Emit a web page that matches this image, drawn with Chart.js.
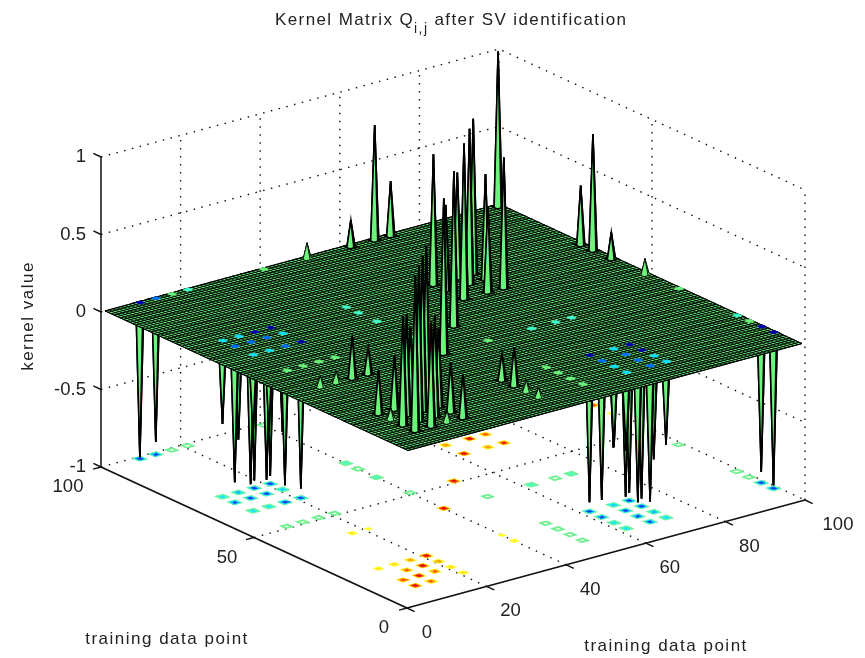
<!DOCTYPE html>
<html>
<head>
<meta charset="utf-8">
<title>Kernel Matrix</title>
<script src="https://cdn.jsdelivr.net/npm/chart.js@4/dist/chart.umd.js"></script>
<style>
  html, body { margin: 0; padding: 0; background: #fff; }
  canvas { display: block; filter: blur(0.35px); }
</style>
</head>
<body>
<canvas id="kernel-surface" width="865" height="658"></canvas>
<script>
// support vector indices, the only places where the surface leaves zero
const svIndex = [9, 13, 17, 21, 40, 51, 62, 68, 72, 99];

// kernel values, one row per y in svIndex, one column per x in svIndex
const row9  = [1,    .67,  .07,  .28,  .06, -.08, -.5,  -.87, -.53, -.98];
const row13 = [.7,   1,    .65,  .32,  .07, -.1,  -.51, -.91, -.66, -.93];
const row17 = [.07,  .65,  1,    .5,   .25, -.1,  -.89, -.91, -.95, -.1];
const row21 = [.28,  .35,  .5,   1,    .17, -.08, -.94, -.63, -.95, -.2];
const row40 = [.07,  .07,  .27,  .17,  1,   -.08, -.3,  -.2,  -.3,  -.07];
const row51 = [-.08, -.1,  -.1,  -.08, -.08, 1,   0,    0,    0,    .1];
const row62 = [-.5,  -.51, -.89, -.94, -.3,  0,   1,    .55,  .84,  .17];
const row68 = [-.87, -.91, -.91, -.63, -.2,  0,   .55,  1,    .68,  .75];
const row72 = [-.53, -.66, -.95, -.95, -.3,  0,   .84,  .68,  1,    .38];
const row99 = [-.99, -.92, -.1,  -.2,  -.07, .1,  .17,  .74,  .35,  1];
const kernelRows = [row9, row13, row17, row21, row40, row51, row62, row68, row72, row99];

const xTicks = [0, 20, 40, 60, 80, 100];
const yTicks = [0, 50, 100];
const zTicks = [-1, -0.5, 0, 0.5, 1];
const zTickLabels = ['-1', '-0.5', '0', '0.5', '1'];

const negLevels = [-.01, -.2, -.4, -.6, -.8];
const negColours = ['#70f090', '#50ffc0', '#20e0ff', '#20a0ff', '#1040e0'];
const posLevels = [.1, .25, .4, .6, .8];
const posColours = ['#ffff30', '#ffe020', '#ffa010', '#ff5010', '#e01010'];

const GREEN = '#6cf47c';
const FONT = '"Liberation Sans", Arial, sans-serif';

// fixed 3d view of the axes box
function project(x, y, z) {
    return {
        x: 407 + 3.98 * x - 3.06 * y,
        y: 608 - 1.08 * x - 1.41 * y - 155 * (z + 1)
    };
}

function markColour(z) {
    if (z > -0.2) return GREEN;
    if (z > -0.4) return '#40ffd0';
    if (z > -0.7) return '#10e0ff';
    if (z > -0.93) return '#0070ff';
    return '#0000b0';
}

let layers = [];

function addLine(points, colour, width, dash) {
    layers.push({
        data: points.map(function (p) { return project(p[0], p[1], p[2]); }),
        showLine: true,
        borderColor: colour,
        borderWidth: width,
        borderDash: dash || [],
        pointRadius: 0,
        fill: false,
        tension: 0,
        clip: false
    });
}

function addFace(points, fillColour, edgeColour, width) {
    layers.push({
        data: points.map(function (p) { return project(p[0], p[1], p[2]); }),
        showLine: true,
        borderColor: edgeColour,
        borderWidth: width,
        backgroundColor: fillColour,
        pointRadius: 0,
        fill: 'shape',
        tension: 0,
        clip: false
    });
}

// four cells around one peak, back cell first
function addSpike(a, b, z, backColour) {
    const edge = Math.abs(z) < 0.15 ? 0.8 : 1.6;
    addFace([[a, b, z], [a + 1, b, 0], [a + 1, b + 1, 0], [a, b + 1, 0], [a, b, z]], backColour, '#000', edge);
    addFace([[a - 1, b, 0], [a, b, z], [a, b + 1, 0], [a - 1, b + 1, 0], [a - 1, b, 0]], GREEN, '#000', edge);
    addFace([[a, b - 1, 0], [a + 1, b - 1, 0], [a + 1, b, 0], [a, b, z], [a, b - 1, 0]], GREEN, '#000', edge);
    addFace([[a - 1, b - 1, 0], [a, b - 1, 0], [a, b, z], [a - 1, b, 0], [a - 1, b - 1, 0]], GREEN, '#000', edge);
}

let spikes = [];
kernelRows.forEach(function (row, r) {
    row.forEach(function (z, c) {
        if (z !== 0) spikes.push({ a: svIndex[c], b: svIndex[r], z: z });
    });
});
spikes.sort(function (p, q) { return (q.a + q.b) - (p.a + p.b); });

const DOT = [1.5, 6.5];

// back walls
zTicks.forEach(function (z) {
    addLine([[0, 100, z], [100, 100, z], [100, 0, z]], '#111', 1.4, DOT);
});
xTicks.slice(1).forEach(function (x) {
    addLine([[x, 100, -1], [x, 100, 1]], '#111', 1.4, DOT);
});
[0, 50].forEach(function (y) {
    addLine([[100, y, -1], [100, y, 1]], '#111', 1.4, DOT);
});

// floor grid
xTicks.slice(1, 5).forEach(function (x) {
    addLine([[x, 0, -1], [x, 100, -1]], '#111', 1.4, DOT);
});
addLine([[0, 50, -1], [100, 50, -1]], '#111', 1.4, DOT);

// floor contours under each peak
spikes.forEach(function (s) {
    const levels = s.z < 0 ? negLevels : posLevels;
    const colours = s.z < 0 ? negColours : posColours;
    levels.forEach(function (level, i) {
        const f = 0.85 * (1 - level / s.z);
        if (f <= 0) return;
        addLine([
            [s.a - f, s.b - f, -1], [s.a + f, s.b - f, -1],
            [s.a + f, s.b + f, -1], [s.a - f, s.b + f, -1], [s.a - f, s.b - f, -1]
        ], colours[i], 1.8);
    });
});

// axis lines and ticks
addLine([[0, 100, -1], [0, 100, 1]], '#111', 1.5);
addLine([[0, 100, -1], [0, 0, -1]], '#111', 1.8);
addLine([[0, 0, -1], [100, 0, -1]], '#111', 1.8);
xTicks.forEach(function (x) {
    addLine([[x, 0, -1], [x, -2.5, -1]], '#111', 1.4);
});
yTicks.forEach(function (y) {
    addLine([[0, y, -1], [-2, y, -1]], '#111', 1.4);
});
zTicks.forEach(function (z) {
    addLine([[0, 100, z], [0, 102.5, z]], '#111', 1.4);
});

// pits hang below the sheet, so they go first
spikes.filter(function (s) { return s.z < 0; }).forEach(function (s) {
    addSpike(s.a, s.b, s.z, markColour(s.z));
});

// flat sheet with its mesh
addFace([[1, 1, 0], [100, 1, 0], [100, 100, 0], [1, 100, 0], [1, 1, 0]], GREEN, '#000', 1);
for (let k = 1; k <= 100; k++) {
    addLine([[k, 1, 0], [k, 100, 0]], '#000', 0.85);
    addLine([[1, k, 0], [100, k, 0]], '#000', 1.1);
}

// coloured cell at each pit opening
spikes.filter(function (s) { return s.z < 0; }).forEach(function (s) {
    const c = markColour(s.z);
    addFace([[s.a - .1, s.b - .1, 0], [s.a + 1, s.b - .1, 0], [s.a + 1, s.b + 1, 0], [s.a - .1, s.b + 1, 0], [s.a - .1, s.b - .1, 0]], c, c, 1.2);
});

// peaks stand on top, farthest first
spikes.filter(function (s) { return s.z > 0; }).forEach(function (s) {
    addSpike(s.a, s.b, s.z, GREEN);
});

const axisText = {
    id: 'axisText',
    afterDraw: function (chart) {
        const ctx = chart.ctx;
        const sx = chart.scales.x;
        const sy = chart.scales.y;
        function put(text, p, dx, dy, align) {
            ctx.textAlign = align || 'center';
            ctx.fillText(text, sx.getPixelForValue(p.x) + dx, sy.getPixelForValue(p.y) + dy);
        }
        ctx.save();
        ctx.fillStyle = '#222';
        ctx.textBaseline = 'middle';

        ctx.font = '18.5px ' + FONT;
        xTicks.forEach(function (x) {
            put(String(x), project(x, 0, -1), x === 100 ? 33 : (x === 0 ? 20 : 24), 25);
        });
        yTicks.forEach(function (y) {
            put(String(y), project(0, y, -1), y === 100 ? -33 : (y === 0 ? -23 : -27), 20);
        });
        zTicks.forEach(function (z, i) {
            put(zTickLabels[i], project(0, 100, z), -15, 0, 'right');
        });

        ctx.font = '17px ' + FONT;
        ctx.letterSpacing = '1.5px';
        ctx.textAlign = 'center';
        ctx.fillText('training data point', 167, 639);
        ctx.fillText('training data point', 666, 646);

        ctx.save();
        ctx.translate(28, 316);
        ctx.rotate(-Math.PI / 2);
        ctx.fillText('kernel value', 0, 0);
        ctx.restore();

        // title, with the subscript set by hand
        ctx.textAlign = 'left';
        ctx.letterSpacing = '1.4px';
        const head = 'Kernel Matrix Q';
        const tail = ' after SV identification';
        ctx.fillText(head, 275, 20);
        const headWidth = ctx.measureText(head).width;
        ctx.font = '14px ' + FONT;
        ctx.fillText('i,j', 275 + headWidth, 29);
        const subWidth = ctx.measureText('i,j').width;
        ctx.font = '17px ' + FONT;
        ctx.fillText(tail, 275 + headWidth + subWidth, 20);
        ctx.restore();
    }
};

new Chart(document.getElementById('kernel-surface').getContext('2d'), {
    type: 'scatter',
    data: {
        // chart.js paints the first dataset last
        datasets: layers.slice().reverse()
    },
    options: {
        responsive: false,
        animation: false,
        events: [],
        layout: { padding: 0 },
        scales: {
            x: { type: 'linear', min: 0, max: 865, display: false },
            y: { type: 'linear', min: 0, max: 658, reverse: true, display: false }
        },
        plugins: {
            legend: { display: false },
            tooltip: { enabled: false },
            filler: { drawTime: 'beforeDatasetDraw', propagate: false }
        }
    },
    plugins: [axisText]
});
</script>
</body>
</html>
